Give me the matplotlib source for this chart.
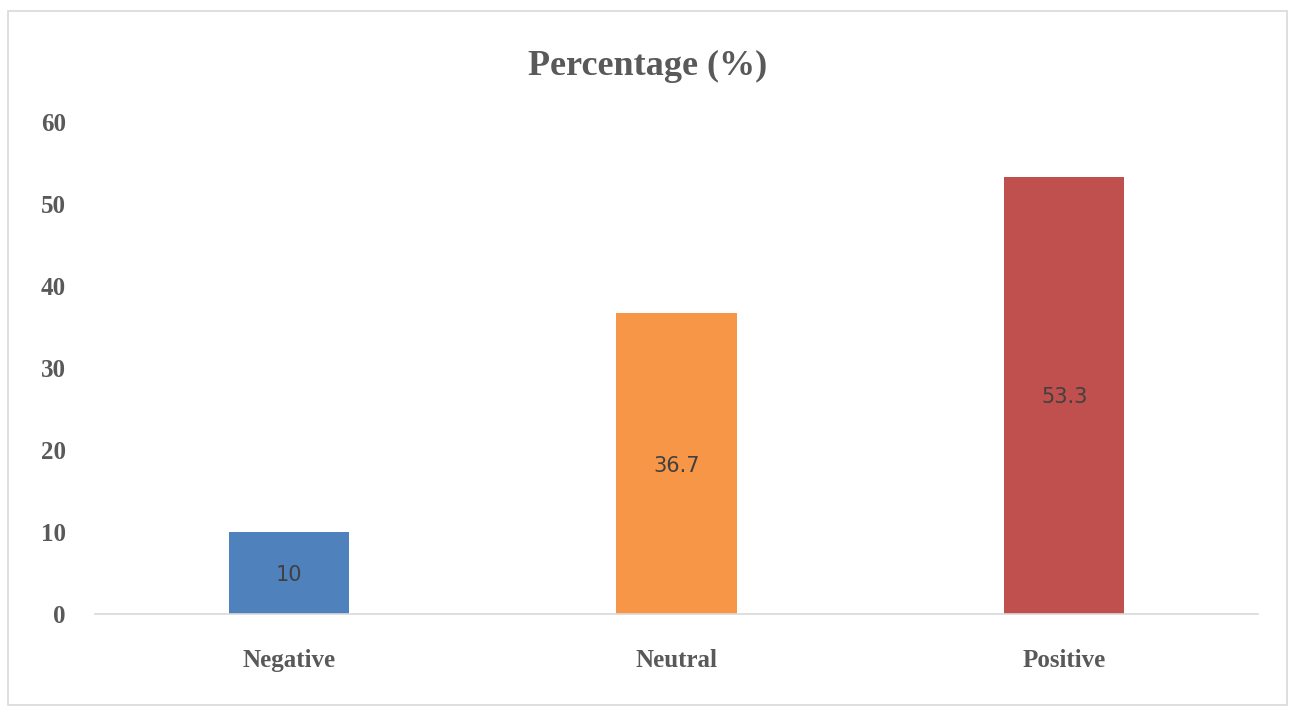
import matplotlib.pyplot as plt
from matplotlib.patches import Rectangle
import numpy as np

# data
categories = ["Negative", "Neutral", "Positive"]
percentages = [10, 36.7, 53.3]
bar_colors = ["#4F81BD", "#F79646", "#C0504D"]

TEXT_GRAY = "#595959"
SERIF = ["Liberation Serif", "DejaVu Serif"]

fig = plt.figure(figsize=(12.91, 7.09), dpi=100)
ax = fig.add_axes([0.0736, 0.134, 0.9008, 0.694])

# light frame round the whole chart, like the office chart area
fig.patches.append(Rectangle((0.006, 0.006), 0.991, 0.979, transform=fig.transFigure,
                             fill=False, edgecolor="#D9D9D9", linewidth=1.2))

x = np.arange(len(categories))
bars = ax.bar(x, percentages, width=0.31, color=bar_colors, zorder=2)

# values in the middle of each bar
for xi, v in zip(x, percentages):
    ax.text(xi, v / 2, f"{v:g}", ha="center", va="center_baseline",
            fontsize=15, color="#404040", family="DejaVu Sans")

ax.set_xlim(-0.5, 2.5)
ax.set_ylim(0, 60)
ax.set_yticks(range(0, 61, 10))
ax.set_xticks(x)
ax.set_xticklabels(categories)

for lbl in ax.get_yticklabels() + ax.get_xticklabels():
    lbl.set_fontfamily(SERIF)
    lbl.set_fontweight("bold")
    lbl.set_fontsize(18)
    lbl.set_color(TEXT_GRAY)

ax.tick_params(axis="both", length=0)
ax.tick_params(axis="y", pad=21)
ax.tick_params(axis="x", pad=25)

for side in ["top", "right", "left"]:
    ax.spines[side].set_visible(False)
ax.spines["bottom"].set_color("#D9D9D9")
ax.spines["bottom"].set_linewidth(1.2)

fig.text(0.502, 0.906, "Percentage (%)", ha="center", va="center",
         fontsize=26, fontweight="bold", color=TEXT_GRAY, family=SERIF)

fig.savefig("out.png", dpi=100)
